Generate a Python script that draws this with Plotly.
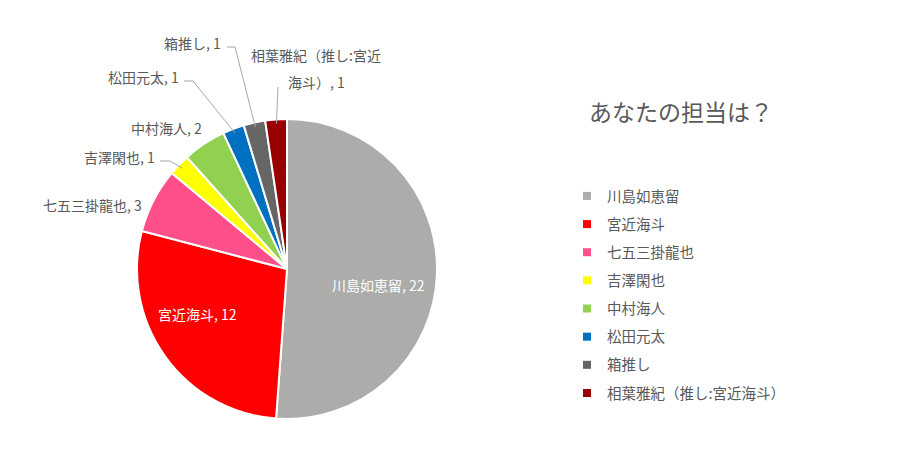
import math
import plotly.graph_objects as go

W, H = 905, 460

names = ["川島如恵留", "宮近海斗", "七五三掛龍也", "吉澤閑也", "中村海人",
         "松田元太", "箱推し", "相葉雅紀（推し:宮近海斗）"]
counts = [22, 12, 3, 1, 2, 1, 1, 1]
colors = ["#ACACAB", "#FF0000", "#FF4F8B", "#FFFF00", "#92D050",
          "#0070C0", "#666666", "#990000"]

title = "あなたの担当は？"
font = "Noto Sans CJK JP"
grey = "#595959"

# pie placement in pixels (page has an 8px body margin)
OFF = 8
cx, cy, r = 287, 269, 150


def px(x, y):
    return (x - OFF) / W, 1 - (y - OFF) / H


def slice_edge(i, k=0.97):
    total = sum(counts)
    f = (sum(counts[:i]) + counts[i] / 2) / total
    a = 2 * math.pi * f
    return cx + r * k * math.sin(a), cy - r * k * math.cos(a)


fig = go.Figure()

x0, y0 = px(cx - r, cy + r)
x1, y1 = px(cx + r, cy - r)
fig.add_trace(go.Pie(
    labels=names, values=counts, sort=False, direction="clockwise",
    rotation=0, marker=dict(colors=colors, line=dict(color="white", width=2)),
    textinfo="none",
    domain=dict(x=[x0, x1], y=[y0, y1]),
    showlegend=False, hoverinfo="label+value+percent",
))

# legend entries (square markers)
for n, c in zip(names, colors):
    fig.add_trace(go.Scatter(x=[None], y=[None], mode="markers", name=n,
                             legendgroup=n,
                             marker=dict(color=c, symbol="square", size=8)))

# data labels: (text x, text y, anchor, leader start/elbow)
inside_labels = {
    0: (378, 285, "center"),
    1: (197, 314, "center"),
}
out_labels = {
    2: (144, 205, "right", None),
    3: (157, 157, "right", [(160, 161), (170, 161)]),
    4: (204, 128, "right", None),
    5: (181, 77, "right", [(184, 81), (193, 81)]),
    6: (223, 43, "right", [(227, 47), (235, 47)]),
}

annotations = []
shapes = []
for i, (tx, ty, anc) in inside_labels.items():
    ax, ay = px(tx, ty)
    annotations.append(dict(x=ax, y=ay, xref="paper", yref="paper",
                            text=f"{names[i]}, {counts[i]}", showarrow=False,
                            xanchor=anc, yanchor="middle",
                            font=dict(size=14, color="white", family=font)))

for i, (tx, ty, anc, pts) in out_labels.items():
    ax, ay = px(tx, ty)
    annotations.append(dict(x=ax, y=ay, xref="paper", yref="paper",
                            text=f"{names[i]}, {counts[i]}", showarrow=False,
                            xanchor=anc, yanchor="middle",
                            font=dict(size=14, color=grey, family=font)))
    if pts:
        ex, ey = slice_edge(i)
        path = "M " + " L ".join(f"{px(a, b)[0]},{px(a, b)[1]}" for a, b in pts + [(ex, ey)])
        shapes.append(dict(type="path", path=path, xref="paper", yref="paper",
                           line=dict(color="#A6A6A6", width=1)))

# last label wraps over two lines
last = len(names) - 1
for txt, ty in [(names[last][:10], 55), (names[last][10:] + f", {counts[last]}", 82)]:
    ax, ay = px(316, ty)
    annotations.append(dict(x=ax, y=ay, xref="paper", yref="paper", text=txt,
                            showarrow=False, xanchor="center", yanchor="middle",
                            font=dict(size=14, color=grey, family=font)))
ex, ey = slice_edge(last)
sx, sy = px(278, 87)
exx, eyy = px(ex, ey)
shapes.append(dict(type="path", path=f"M {sx},{sy} L {exx},{eyy}",
                   xref="paper", yref="paper",
                   line=dict(color="#A6A6A6", width=1)))

tx, ty = px(589, 113)
fig.update_layout(
    width=W, height=H,
    margin=dict(l=0, r=0, t=0, b=0),
    paper_bgcolor="white", plot_bgcolor="white",
    font=dict(family=font, color=grey),
    title=dict(text=title, x=tx, y=ty, xanchor="left", yanchor="middle",
               font=dict(size=23, color=grey, family=font)),
    xaxis=dict(visible=False), yaxis=dict(visible=False),
    legend=dict(x=px(567, 0)[0], y=px(0, 180)[1], xanchor="left", yanchor="top",
                tracegroupgap=6.3, itemwidth=30,
                font=dict(size=14.5, color=grey, family=font)),
    annotations=annotations,
    shapes=shapes,
)

fig.write_html("out.html")
